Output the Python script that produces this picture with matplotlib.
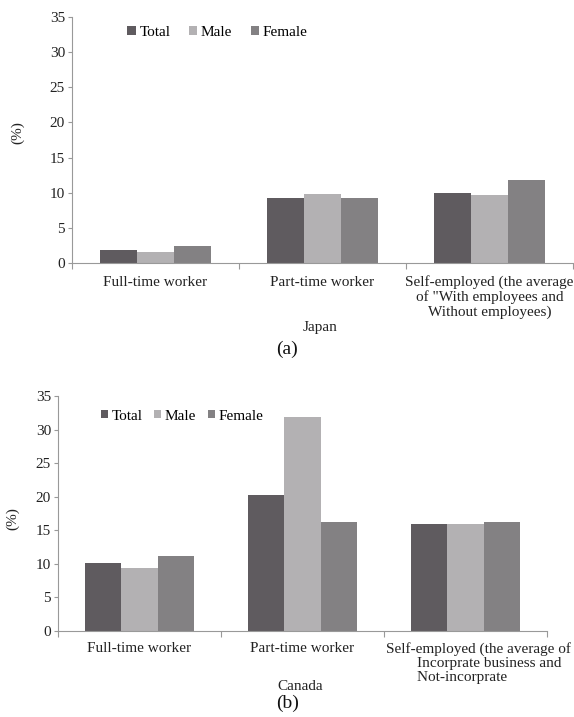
import matplotlib.pyplot as plt
from matplotlib.patches import Patch
from matplotlib.transforms import ScaledTranslation
import numpy as np

plt.rcParams['font.family'] = ['Liberation Serif', 'DejaVu Serif']

# series names and colours
series = ["Total", "Male", "Female"]
colors = ["#5f5b5f", "#b3b1b3", "#838183"]

# (a) Japan
japan_cats = ["Full-time worker", "Part-time worker",
              "Self-employed (the average\nof \"With employees and\nWithout employees)"]
japan_total = [1.8, 9.2, 10.0]
japan_male = [1.5, 9.8, 9.7]
japan_female = [2.4, 9.2, 11.8]

# (b) Canada
canada_cats = ["Full-time worker", "Part-time worker",
               "Self-employed (the average of\n        Incorprate business and\n        Not-incorprate"]
canada_total = [10.1, 20.3, 15.9]
canada_male = [9.4, 31.9, 16.0]
canada_female = [11.2, 16.3, 16.3]

W, H = 574, 717
fig = plt.figure(figsize=(W / 100, H / 100), dpi=100)
FS = 11


def fx(px):
    return px / W


def fy(py):
    return 1 - py / H


def draw_panel(rect, cats, vals, leg_anchor, label_pad, colspace, handle):
    ax = fig.add_axes(rect)
    x = np.arange(len(cats))
    width = 1 / 4.5
    for i, (v, c, name) in enumerate(zip(vals, colors, series)):
        ax.bar(x + (i - 1) * width, v, width, color=c, label=name)
    ax.set_xlim(-0.5, len(cats) - 0.5)
    ax.set_ylim(0, 35)
    ax.set_yticks(range(0, 36, 5))
    ax.tick_params(axis='y', labelsize=FS, length=3, color="#999999", labelcolor="#222222", pad=2)
    ax.set_xticks(np.arange(len(cats) + 1) - 0.5)
    ax.set_xticklabels([])
    ax.tick_params(axis='x', which='major', length=4, color="#999999", direction='out')
    ax.set_xticks(x, minor=True)
    ax.set_xticklabels(cats, minor=True, fontsize=FS, color="#222222", linespacing=1.1, va='top')
    ax.tick_params(axis='x', which='minor', length=0, pad=label_pad)
    for s in ["top", "right"]:
        ax.spines[s].set_visible(False)
    for s in ["left", "bottom"]:
        ax.spines[s].set_color("#999999")
    handles = [Patch(facecolor=c, label=n) for c, n in zip(colors, series)]
    ax.legend(handles=handles, loc='center left', bbox_to_anchor=leg_anchor, ncol=3,
              frameon=False, fontsize=FS, handlelength=handle, handleheight=handle,
              handletextpad=0.25, columnspacing=colspace, borderpad=0, borderaxespad=0)
    ax.set_ylabel("(%)", fontsize=FS, color="#222222")
    return ax


ax1 = draw_panel([fx(72), fy(263), fx(573) - fx(72), fy(17) - fy(263)], japan_cats,
                 [japan_total, japan_male, japan_female], (0.11, 0.937), 9, 1.2, 0.55)
ax1.yaxis.set_label_coords(-0.095, 0.53)
fig.text(fx(320), fy(328), "Japan", ha='center', va='center', fontsize=FS, color="#222222")
fig.text(fx(287), fy(349), "(a)", ha='center', va='center', fontsize=14, color="#111111")

ax2 = draw_panel([fx(58), fy(631), fx(547) - fx(58), fy(396) - fy(631)], canada_cats,
                 [canada_total, canada_male, canada_female], (0.088, 0.914), 8, 0.75, 0.45)
ax2.yaxis.set_label_coords(-0.08, 0.48)
# the Canada self-employed label sits a bit right of its category centre
lab = ax2.get_xticklabels(minor=True)[2]
lab.set_multialignment('left')
lab.set_transform(lab.get_transform() + ScaledTranslation(13 / 100, 0, fig.dpi_scale_trans))
fig.text(fx(300), fy(686), "Canada", ha='center', va='center', fontsize=FS, color="#222222")
fig.text(fx(288), fy(703), "(b)", ha='center', va='center', fontsize=14, color="#111111")

fig.savefig("out.png", dpi=100)
